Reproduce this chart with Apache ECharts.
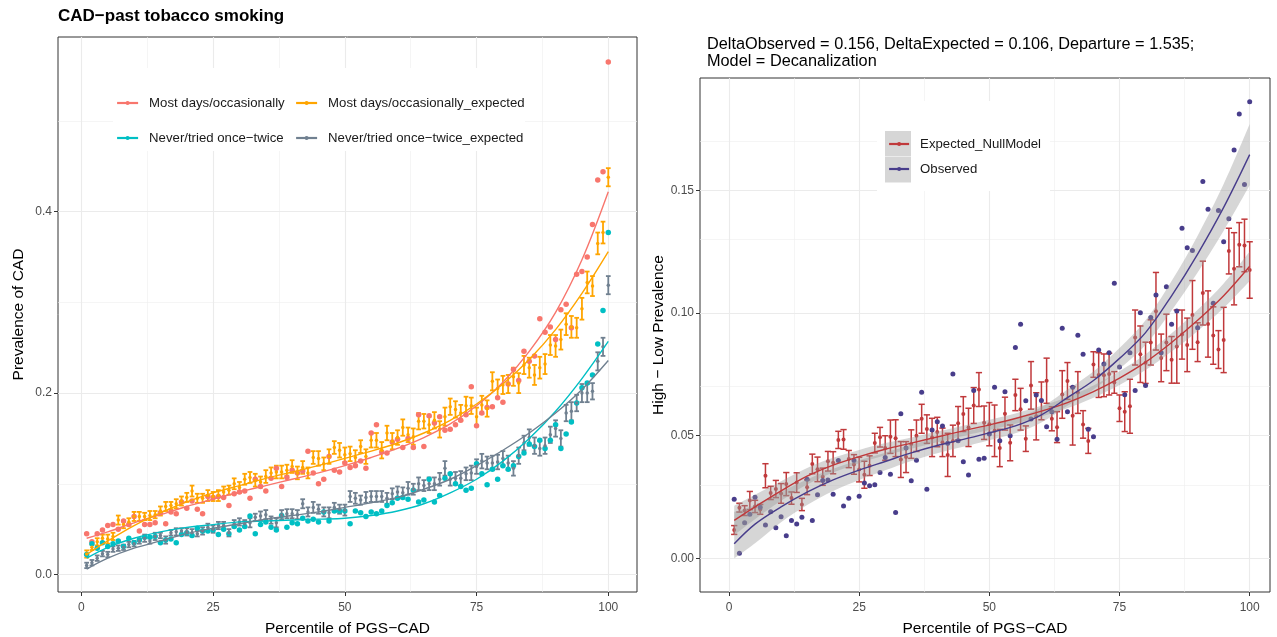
<!DOCTYPE html>
<html><head><meta charset="utf-8">
<script src="https://cdn.jsdelivr.net/npm/echarts@6/dist/echarts.min.js"></script>
<style>html,body{margin:0;padding:0;background:#fff}#c{width:1277px;height:637px}</style>
</head><body><div id="c"></div>
<script>
const pct = [1,2,3,4,5,6,7,8,9,10,11,12,13,14,15,16,17,18,19,20,21,22,23,24,25,26,27,28,29,30,31,32,33,34,35,36,37,38,39,40,41,42,43,44,45,46,47,48,49,50,51,52,53,54,55,56,57,58,59,60,61,62,63,64,65,66,67,68,69,70,71,72,73,74,75,76,77,78,79,80,81,82,83,84,85,86,87,88,89,90,91,92,93,94,95,96,97,98,99,100];
const knots = [1,5,10,15,20,25,30,35,40,45,50,55,60,65,70,75,80,85,90,95,100];

// ---- Left panel: CAD - past tobacco smoking ----
const obsMost = [.045,.036,.045,.049,.054,.055,.050,.059,.055,.064,
 .048,.055,.055,.057,.068,.056,.069,.067,.080,.073,
 .081,.072,.067,.086,.085,.086,.085,.076,.089,.091,
 .092,.084,.105,.097,.092,.106,.117,.097,.107,.115,
 .112,.114,.136,.112,.100,.105,.130,.115,.113,.123,
 .118,.120,.125,.117,.156,.165,.135,.134,.146,.149,
 .140,.150,.140,.176,.141,.175,.167,.174,.159,.160,
 .165,.170,.176,.207,.164,.178,.184,.185,.195,.190,
 .210,.226,.214,.246,.235,.241,.282,.267,.273,.259,
 .292,.298,.272,.331,.334,.350,.386,.435,.444,.565];
const expMost = [.0226,.030,.036,.040,.039,.042,.060,.055,.058,.064,
 .064,.064,.065,.066,.070,.075,.076,.078,.081,.085,
 .092,.084,.084,.087,.086,.087,.091,.093,.100,.096,
 .105,.107,.104,.102,.108,.112,.113,.113,.115,.119,
 .112,.118,.112,.129,.128,.122,.130,.140,.137,.132,
 .133,.129,.141,.130,.148,.148,.137,.156,.147,.151,
 .162,.154,.152,.169,.169,.165,.170,.160,.174,.185,
 .182,.178,.186,.186,.174,.187,.183,.213,.205,.209,
 .210,.218,.211,.231,.228,.220,.228,.232,.253,.252,
 .259,.276,.273,.272,.293,.322,.318,.365,.377,.438];
const expMostSE = [.004,.003,.004,.004,.005,.004,.005,.004,.004,.005,
 .005,.004,.005,.004,.005,.005,.004,.005,.005,.005,
 .006,.005,.005,.006,.005,.006,.006,.005,.006,.006,
 .006,.006,.007,.006,.007,.006,.007,.007,.006,.007,
 .007,.007,.006,.007,.008,.007,.008,.007,.008,.008,
 .008,.008,.007,.008,.008,.008,.009,.008,.009,.008,
 .009,.008,.009,.009,.008,.009,.009,.009,.010,.009,
 .009,.009,.010,.009,.010,.010,.009,.010,.010,.010,
 .010,.010,.011,.010,.011,.011,.012,.011,.011,.012,
 .011,.012,.012,.011,.012,.012,.011,.012,.012,.010];
const obsNever = [.022,.034,.029,.035,.031,.034,.037,.031,.040,.035,
 .038,.041,.041,.042,.035,.038,.039,.035,.044,.046,
 .043,.051,.048,.048,.049,.044,.050,.045,.053,.049,
 .053,.0645,.045,.055,.058,.052,.049,.065,.052,.057,
 .056,.062,.059,.061,.058,.069,.059,.070,.070,.070,
 .056,.070,.068,.064,.069,.067,.070,.076,.079,.084,
 .085,.083,.093,.080,.082,.105,.080,.087,.106,.111,
 .100,.097,.093,.095,.122,.111,.099,.116,.105,.120,
 .116,.120,.130,.134,.144,.141,.148,.139,.148,.165,
 .139,.155,.168,.189,.206,.211,.220,.254,.291,.377];
const expNever = [.010,.013,.018,.023,.022,.028,.029,.030,.033,.034,
 .037,.040,.037,.042,.043,.038,.046,.047,.048,.047,
 .046,.045,.048,.052,.050,.054,.054,.046,.056,.058,
 .056,.057,.063,.0645,.066,.060,.057,.066,.067,.067,
 .066,.078,.069,.074,.072,.069,.068,.074,.072,.071,
 .086,.084,.082,.085,.086,.086,.086,.084,.089,.091,
 .090,.095,.094,.100,.098,.100,.100,.105,.117,.105,
 .106,.106,.111,.112,.119,.125,.123,.123,.124,.128,
 .123,.117,.131,.145,.151,.142,.139,.142,.154,.161,
 .150,.178,.180,.189,.200,.200,.202,.235,.251,.319];
const expNeverSE = [.003,.003,.003,.003,.003,.003,.003,.003,.003,.003,
 .003,.004,.003,.004,.003,.004,.003,.004,.003,.004,
 .004,.003,.004,.004,.004,.004,.004,.004,.004,.004,
 .004,.005,.004,.005,.005,.004,.005,.005,.005,.005,
 .005,.005,.005,.006,.005,.005,.006,.005,.005,.006,
 .006,.006,.005,.006,.006,.006,.006,.006,.006,.006,
 .006,.007,.006,.007,.006,.007,.007,.007,.008,.007,
 .007,.008,.007,.008,.008,.008,.007,.008,.008,.008,
 .008,.008,.009,.008,.009,.009,.008,.009,.009,.009,
 .009,.009,.010,.009,.010,.010,.009,.010,.010,.010];
const fitObsMost  = [.040,.047,.057,.066,.075,.083,.091,.098,.105,.112,.120,.129,.139,.151,.166,.186,.212,.246,.289,.347,.422];
const fitExpMost  = [.022,.037,.054,.068,.080,.090,.098,.106,.113,.120,.128,.136,.145,.156,.170,.188,.210,.237,.270,.310,.356];
const fitObsNever = [.018,.030,.040,.047,.052,.055,.058,.059,.060,.061,.062,.065,.070,.078,.090,.105,.125,.150,.180,.216,.257];
const fitExpNever = [.006,.018,.029,.037,.045,.051,.056,.061,.065,.069,.074,.079,.085,.094,.105,.120,.137,.156,.178,.204,.236];

// ---- Right panel: High - Low prevalence ----
const diffObs = [.0241,.0021,.0146,.018,.0249,.0209,.0136,.019,.0125,.017,
 .0093,.0155,.014,.0168,.0323,.0155,.026,.0318,.032,.0262,
 .0399,.0214,.0245,.0399,.0253,.0307,.0296,.030,.035,.0411,
 .0343,.0187,.059,.045,.0317,.040,.0677,.0282,.0523,.0557,
 .054,.0469,.0751,.048,.0394,.034,.0684,.0404,.0408,.0507,
 .0697,.048,.0679,.050,.0859,.0954,.0642,.0568,.0666,.0643,
 .0537,.0598,.0486,.0938,.0598,.0697,.0909,.0832,.0526,.0496,
 .0849,.0792,.0838,.1121,.078,.0667,.0838,.0684,.1001,.0705,
 .0982,.1073,.0838,.1107,.0954,.1008,.1345,.1266,.1254,.094,
 .1535,.1422,.104,.1417,.129,.1384,.1664,.181,.1523,.186];
const diffExp = [.0116,.0207,.0195,.0236,.0212,.020,.0337,.0267,.0283,.0265,
 .0303,.0246,.0309,.022,.029,.0385,.0363,.0333,.0396,.039,
 .0483,.0485,.0405,.0383,.0362,.0341,.0378,.047,.0494,.045,
 .0496,.049,.0403,.0413,.0466,.050,.0569,.0527,.0493,.0515,
 .0473,.0422,.0479,.0551,.0588,.0534,.0623,.0688,.0553,.0547,
 .052,.045,.059,.0471,.0666,.0608,.0488,.0705,.0579,.0642,
 .0724,.0569,.0535,.0668,.0723,.0581,.0676,.0546,.0479,.079,
 .0747,.0746,.0751,.0717,.0612,.0598,.062,.090,.0832,.0797,
 .088,.1007,.0817,.088,.0809,.0863,.0912,.087,.0992,.0881,
 .1081,.0955,.0908,.0851,.089,.1252,.118,.1278,.1275,.1175];
const diffExpSE = [.0018,.0018,.002,.0037,.0025,.002,.0049,.0027,.0035,.004,
 .0047,.0025,.004,.0025,.003,.004,.005,.0035,.004,.0045,
 .0035,.004,.0035,.004,.005,.0055,.004,.004,.004,.005,
 .0068,.0075,.0073,.0063,.0058,.0064,.0059,.0058,.0078,.006,
 .0058,.0088,.0064,.0068,.0071,.0078,.0073,.0069,.0068,.0088,
 .0105,.0076,.0067,.0073,.0064,.0085,.0052,.0097,.0096,.0077,
 .0092,.0049,.0063,.0097,.0075,.0119,.0085,.0056,.0051,.0052,
 .0091,.0087,.0085,.0044,.0054,.0081,.011,.0112,.0115,.0084,
 .0092,.0158,.0097,.0115,.0095,.0149,.01,.0109,.014,.0079,
 .013,.0135,.0117,.0077,.0133,.0093,.0147,.009,.0107,.0115];
const fitObs     = [.006,.014,.021,.027,.032,.036,.0395,.043,.046,.0485,.0512,.054,.0585,.0655,.0725,.0815,.092,.107,.124,.143,.1645];
const fitObsBand = [.0095,.0078,.0062,.0052,.0045,.004,.0036,.0033,.0031,.003,.003,.003,.0031,.0033,.0037,.0042,.005,.006,.0075,.0095,.0125];
const fitExp     = [.0155,.021,.0275,.0335,.038,.0415,.0445,.047,.0495,.052,.0544,.057,.060,.0635,.068,.0735,.080,.088,.097,.107,.119];
const fitExpBand = [.006,.005,.004,.0034,.003,.0027,.0025,.0023,.0022,.0021,.0021,.0021,.0022,.0023,.0025,.0028,.0032,.0037,.0043,.005,.006];

// ---- Axis ticks / grid ----
const xTicks = [0,25,50,75,100];
const xMinor = [12.5,37.5,62.5,87.5];
const leftYTicks = [0,0.2,0.4];
const leftYMinor = [0.1,0.3,0.5];
const rightYTicks = [0,0.05,0.1,0.15];
const rightYMinor = [0.025,0.075,0.125,0.175];

const NAME_MO = 'Most days/occasionally';
const NAME_ME = 'Most days/occasionally_expected';
const NAME_NO = 'Never/tried once\u2212twice';
const NAME_NE = 'Never/tried once\u2212twice_expected';
const C_MO = '#F8766D', C_ME = '#FFA500', C_NO = '#00BFC4', C_NE = '#708090';
const C_RED = '#C0393B', C_BLUE = '#483D8B';
const FONT = '"Liberation Sans", Arial, Helvetica, sans-serif';

const pairs = (xs, ys) => xs.map((x, i) => [x, ys[i]]);
const bars = (xs, ys, se) => xs.map((x, i) => [x, ys[i] - se[i], ys[i] + se[i]]);

function gridSeries(xi, yMaj, yMin) {
  const maj = {color: '#EBEBEB', width: 1.1, type: 'solid'};
  const mnr = {color: '#EFEFEF', width: 0.6, type: 'solid'};
  return {type: 'scatter', xAxisIndex: xi, yAxisIndex: xi, data: [], z: 1, silent: true,
    markLine: {silent: true, z: 1, symbol: ['none', 'none'], label: {show: false}, animation: false,
      emphasis: {disabled: true},
      data: [].concat(
        xMinor.map(v => ({xAxis: v, lineStyle: mnr})),
        yMin.map(v => ({yAxis: v, lineStyle: mnr})),
        xTicks.map(v => ({xAxis: v, lineStyle: maj})),
        yMaj.map(v => ({yAxis: v, lineStyle: maj})))}};
}
function errorBars(name, xi, data, color, lw, cap, z) {
  return {type: 'custom', name, xAxisIndex: xi, yAxisIndex: xi, data, z: z || 3, silent: true,
    clip: false, encode: {x: 0, y: [1, 2]},
    renderItem(params, api) {
      const x = api.value(0), lo = api.value(1), hi = api.value(2);
      const a = api.coord([x, lo]), b = api.coord([x, hi]);
      const l = api.coord([x - cap, lo])[0], r = api.coord([x + cap, lo])[0];
      const st = {stroke: color, lineWidth: lw};
      return {type: 'group', children: [
        {type: 'line', shape: {x1: a[0], y1: a[1], x2: b[0], y2: b[1]}, style: st},
        {type: 'line', shape: {x1: l, y1: a[1], x2: r, y2: a[1]}, style: st},
        {type: 'line', shape: {x1: l, y1: b[1], x2: r, y2: b[1]}, style: st}]};
    }};
}
function points(name, xi, data, color, size, z) {
  return {type: 'scatter', name, xAxisIndex: xi, yAxisIndex: xi, data, symbolSize: size, z: z || 3,
    silent: true, itemStyle: {color, opacity: 1}, emphasis: {disabled: true}};
}
function fit(name, xi, data, color, z) {
  return {type: 'line', name, xAxisIndex: xi, yAxisIndex: xi, data, smooth: 0.35,
    symbol: 'circle', symbolSize: 4, showSymbol: false, z: z || 5, silent: true,
    lineStyle: {color, width: 1.4}, itemStyle: {color}, emphasis: {disabled: true}};
}
// band drawn as two stacked lines; values are stored [y, x] so that the stacked dimension is y
function band(key, xi, mid, hw, z) {
  const lower = knots.map((k, i) => [mid[i] - hw[i], k]);
  const width = knots.map((k, i) => [2 * hw[i], k]);
  const common = {type: 'line', xAxisIndex: xi, yAxisIndex: xi, stack: key, smooth: 0.35,
    symbol: 'none', lineStyle: {opacity: 0, width: 0}, z, silent: true,
    dimensions: ['v', 'p'], encode: {x: 'p', y: 'v'}};
  return [
    Object.assign({}, common, {data: lower}),
    Object.assign({}, common, {data: width, areaStyle: {color: 'rgba(153,153,153,0.4)', opacity: 1}})
  ];
}
function xAxis(gi, min, max) {
  return {type: 'value', gridIndex: gi, min, max, splitLine: {show: false},
    axisLine: {show: false, onZero: false},
    axisTick: {show: true, customValues: xTicks, length: 4, lineStyle: {color: '#333', width: 1}},
    axisLabel: {customValues: xTicks, color: '#4D4D4D', fontSize: 12, margin: 10, fontFamily: FONT},
    name: 'Percentile of PGS\u2212CAD', nameLocation: 'middle', nameGap: 28.5,
    nameTextStyle: {color: '#000', fontSize: 15.5, fontFamily: FONT}};
}
function yAxis(gi, min, max, ticks, dec, title) {
  return {type: 'value', gridIndex: gi, min, max, splitLine: {show: false},
    axisLine: {show: false, onZero: false},
    axisTick: {show: true, customValues: ticks, length: 4, lineStyle: {color: '#333', width: 1}},
    axisLabel: {customValues: ticks, color: '#4D4D4D', fontSize: 12, margin: 6, fontFamily: FONT,
      formatter: v => v.toFixed(dec)},
    name: title, nameLocation: 'middle', nameGap: 31, nameRotate: 90,
    nameTextStyle: {color: '#000', fontSize: 15.5, fontFamily: FONT}};
}

const series = [
  gridSeries(0, leftYTicks, leftYMinor),
  gridSeries(1, rightYTicks, rightYMinor),
  fit(NAME_MO, 0, pairs(knots, fitObsMost), C_MO),
  fit(NAME_ME, 0, pairs(knots, fitExpMost), C_ME),
  fit(NAME_NO, 0, pairs(knots, fitObsNever), C_NO),
  fit(NAME_NE, 0, pairs(knots, fitExpNever), C_NE),
  errorBars(NAME_ME, 0, bars(pct, expMost, expMostSE), C_ME, 1.8, 0.45),
  errorBars(NAME_NE, 0, bars(pct, expNever, expNeverSE), C_NE, 1.8, 0.45),
  points(NAME_MO, 0, pairs(pct, obsMost), C_MO, 5.5),
  points(NAME_NO, 0, pairs(pct, obsNever), C_NO, 5.5),
  points(NAME_ME, 0, pairs(pct, expMost), C_ME, 3.5),
  points(NAME_NE, 0, pairs(pct, expNever), C_NE, 3.5),
  fit('Expected_NullModel', 1, pairs(knots, fitExp), C_RED, 6),
  fit('Observed', 1, pairs(knots, fitObs), C_BLUE, 6),
  errorBars('Expected_NullModel', 1, bars(pct, diffExp, diffExpSE), C_RED, 1.5, 0.6),
  points('Expected_NullModel', 1, pairs(pct, diffExp), C_RED, 4),
  points('Observed', 1, pairs(pct, diffObs), C_BLUE, 5),
  ...band('bandObs', 1, fitObs, fitObsBand, 4),
  ...band('bandExp', 1, fitExp, fitExpBand, 4)
];

const legendText = {color: '#1A1A1A', fontSize: 13.2, fontFamily: FONT, lineHeight: 15, padding: [0, 0, 0, 6]};
const option = {
  animation: false,
  backgroundColor: '#fff',
  textStyle: {fontFamily: FONT},
  title: [
    {text: 'CAD\u2212past tobacco smoking', left: 58, top: 8, padding: 0,
      textStyle: {fontSize: 17, fontWeight: 'bold', color: '#000', fontFamily: FONT}},
    {text: 'DeltaObserved = 0.156, DeltaExpected = 0.106, Departure = 1.535;\nModel = Decanalization',
      left: 707, top: 36.5, padding: 0,
      textStyle: {fontSize: 16.3, fontWeight: 'normal', color: '#000', lineHeight: 17, fontFamily: FONT}}
  ],
  grid: [
    {left: 58, top: 37, width: 579, height: 555, show: true, backgroundColor: '#fff', borderColor: '#333', borderWidth: 1, outerBoundsMode: 'none'},
    {left: 700, top: 78, width: 570, height: 514, show: true, backgroundColor: '#fff', borderColor: '#333', borderWidth: 1, outerBoundsMode: 'none'}
  ],
  xAxis: [xAxis(0, -4.44, 105.45), xAxis(1, -5.57, 103.9)],
  yAxis: [
    yAxis(0, -0.0193, 0.5926, leftYTicks, 1, 'Prevalence of CAD'),
    yAxis(1, -0.01365, 0.1957, rightYTicks, 2, 'High \u2212 Low Prevalence')
  ],
  graphic: [
    {type: 'rect', shape: {x: 113, y: 68, width: 412, height: 83}, style: {fill: '#fff'}, z: 2, silent: true},
    {type: 'rect', shape: {x: 877, y: 101, width: 173, height: 90}, style: {fill: '#fff'}, z: 2, silent: true},
    {type: 'rect', shape: {x: 885, y: 131, width: 26, height: 25.5}, style: {fill: '#D6D6D6'}, z: 2, silent: true},
    {type: 'rect', shape: {x: 885, y: 157, width: 26, height: 25.5}, style: {fill: '#D6D6D6'}, z: 2, silent: true}
  ],
  legend: [
    {data: [NAME_MO, NAME_NO], left: 116, top: 95.5, orient: 'vertical', itemWidth: 21, itemHeight: 5,
      itemGap: 20, padding: 0, z: 10, selectedMode: false, textStyle: legendText, lineStyle: {width: 2.2}},
    {data: [NAME_ME, NAME_NE], left: 295, top: 95.5, orient: 'vertical', itemWidth: 21, itemHeight: 5,
      itemGap: 20, padding: 0, z: 10, selectedMode: false, textStyle: legendText, lineStyle: {width: 2.2}},
    {data: ['Expected_NullModel', 'Observed'], left: 888, top: 136.5, orient: 'vertical', itemWidth: 20, itemHeight: 5,
      itemGap: 10, padding: 0, z: 10, selectedMode: false, textStyle: legendText, lineStyle: {width: 2.2}}
  ],
  series
};
const chart = echarts.init(document.getElementById('c'), null, {renderer: 'canvas'});
chart.setOption(option);
</script></body></html>
